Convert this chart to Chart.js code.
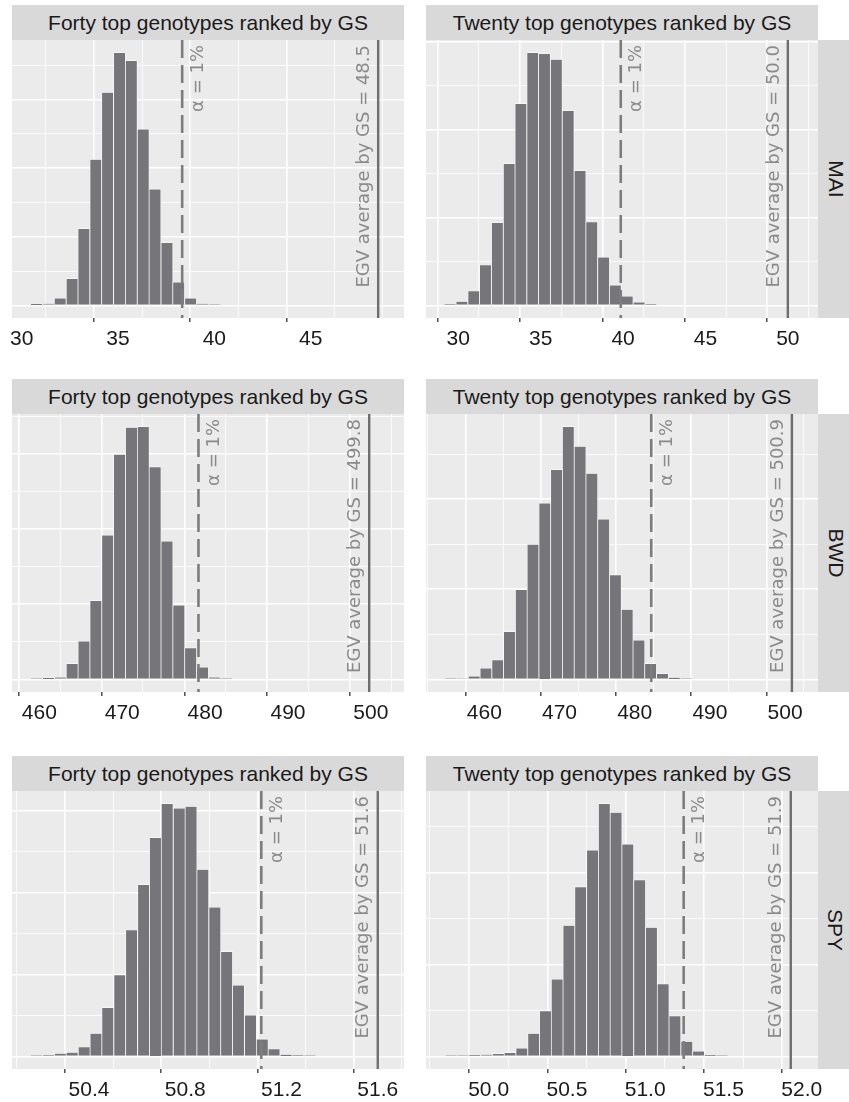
<!DOCTYPE html>
<html>
<head>
<meta charset="utf-8">
<script src="https://cdn.jsdelivr.net/npm/chart.js@4.4.1/dist/chart.umd.min.js"></script>
<style>
  html, body { margin: 0; padding: 0; background: #fff; }
  body { width: 849px; height: 1102px; position: relative; overflow: hidden; font-family: 'Liberation Sans', Arial, sans-serif; }
  .strip { position: absolute; background: #d9d9d9; color: #1a1a1a; font-size: 21px; display: flex; align-items: center; justify-content: center; white-space: nowrap; }
  .strip-y span { display: block; transform: rotate(90deg); }
  canvas { position: absolute; }
</style>
</head>
<body>
<script>
// facets
const rowLabels = ['MAI', 'BWD', 'SPY'];
const colLabels = ['Forty top genotypes ranked by GS', 'Twenty top genotypes ranked by GS'];

// MAI, forty top genotypes
const mai40Mids = [30.77, 31.39, 32.00, 32.62, 33.23, 33.85, 34.46, 35.08, 35.69, 36.31, 36.92, 37.54, 38.15, 38.77, 39.38, 40.00];
const mai40Counts = [8, 12, 52, 195, 560, 1065, 1553, 1843, 1785, 1285, 848, 458, 170, 52, 12, 3];
const mai40Range = [29.50, 49.84];
const mai40Ticks = [30, 35, 40, 45];
const mai40Labels = ['30', '35', '40', '45'];
const mai40Minor = [32.5, 37.5, 42.5, 47.5];

// MAI, twenty top genotypes
const mai20Mids = [29.50, 30.22, 30.94, 31.65, 32.37, 33.09, 33.80, 34.52, 35.23, 35.95, 36.67, 37.39, 38.10, 38.82, 39.53, 40.25, 40.97, 41.69];
const mai20Counts = [5, 22, 82, 230, 472, 808, 1150, 1440, 1435, 1402, 1110, 768, 475, 275, 115, 52, 18, 5];
const mai20Range = [28.04, 51.83];
const mai20Ticks = [30, 35, 40, 45, 50];
const mai20Labels = ['30', '35', '40', '45', '50'];
const mai20Minor = [32.5, 37.5, 42.5, 47.5];

// BWD, forty
const bwd40Mids = [459.67, 461.10, 462.53, 463.96, 465.39, 466.82, 468.25, 469.68, 471.11, 472.54, 473.97, 475.40, 476.83, 478.26, 479.69, 481.12, 482.55];
const bwd40Counts = [5, 10, 15, 105, 255, 525, 960, 1498, 1678, 1683, 1415, 920, 495, 210, 82, 15, 5];
const bwd40Range = [456.7, 504.0];
const bwd40Ticks = [460, 470, 480, 490, 500];
const bwd40Labels = ['460', '470', '480', '490', '500'];
const bwd40Minor = [465, 475, 485, 495];

// BWD, twenty
const bwd20Mids = [455.53, 457.10, 458.66, 460.22, 461.79, 463.35, 464.92, 466.48, 468.05, 469.61, 471.17, 472.74, 474.30, 475.87, 477.43, 479.00, 480.56, 482.12, 483.69, 485.25, 486.82];
const bwd20Counts = [3, 5, 18, 62, 108, 265, 498, 750, 978, 1165, 1403, 1293, 1143, 890, 580, 388, 218, 88, 32, 10, 3];
const bwd20Range = [452.25, 504.37];
const bwd20Ticks = [460, 470, 480, 490, 500];
const bwd20Labels = ['460', '470', '480', '490', '500'];
const bwd20Minor = [455, 465, 475, 485, 495];

// SPY, forty
const spy40Mids = [50.182, 50.232, 50.281, 50.330, 50.380, 50.429, 50.478, 50.528, 50.577, 50.627, 50.676, 50.725, 50.775, 50.824, 50.873, 50.923, 50.972, 51.021, 51.071, 51.120, 51.169, 51.219, 51.268, 51.318];
const spy40Counts = [2, 4, 14, 20, 46, 112, 238, 398, 618, 840, 1070, 1236, 1214, 1222, 914, 730, 512, 348, 202, 84, 36, 8, 4, 2];
const spy40Range = [50.08, 51.709];
const spy40Ticks = [50.4, 50.8, 51.2, 51.6];
const spy40Labels = ['50.4', '50.8', '51.2', '51.6'];
const spy40Minor = [50.2, 50.6, 51.0, 51.4];

// SPY, twenty
const spy20Mids = [49.761, 49.836, 49.911, 49.987, 50.062, 50.137, 50.212, 50.288, 50.363, 50.438, 50.513, 50.588, 50.664, 50.739, 50.814, 50.889, 50.965, 51.040, 51.115, 51.190, 51.266, 51.341, 51.416, 51.491];
const spy20Counts = [2, 3, 5, 10, 15, 20, 45, 125, 248, 420, 712, 922, 1122, 1375, 1328, 1155, 960, 702, 395, 220, 82, 28, 5, 2];
const spy20Range = [49.60, 52.104];
const spy20Ticks = [50.0, 50.5, 51.0, 51.5, 52.0];
const spy20Labels = ['50.0', '50.5', '51.0', '51.5', '52.0'];
const spy20Minor = [49.75, 50.25, 50.75, 51.25, 51.75];

// reference lines (panel order: MAI40, MAI20, BWD40, BWD20, SPY40, SPY20)
const alphaCuts = [38.33, 39.86, 479.2, 482.2, 51.116, 51.246];
const egvValues = [48.5, 50.0, 499.8, 500.9, 51.6, 51.93];
const egvLabels = ['48.5', '50.0', '499.8', '500.9', '51.6', '51.9'];
const countSteps = [250, 250, 250, 250, 200, 250];

const panels = [
  { mids: mai40Mids, counts: mai40Counts, range: mai40Range, major: mai40Ticks, labels: mai40Labels, minor: mai40Minor },
  { mids: mai20Mids, counts: mai20Counts, range: mai20Range, major: mai20Ticks, labels: mai20Labels, minor: mai20Minor },
  { mids: bwd40Mids, counts: bwd40Counts, range: bwd40Range, major: bwd40Ticks, labels: bwd40Labels, minor: bwd40Minor },
  { mids: bwd20Mids, counts: bwd20Counts, range: bwd20Range, major: bwd20Ticks, labels: bwd20Labels, minor: bwd20Minor },
  { mids: spy40Mids, counts: spy40Counts, range: spy40Range, major: spy40Ticks, labels: spy40Labels, minor: spy40Minor },
  { mids: spy20Mids, counts: spy20Counts, range: spy20Range, major: spy20Ticks, labels: spy20Labels, minor: spy20Minor }
];

// layout
const colLeft = [12, 426];
const rowTop = [40, 414, 791];
const panelW = 392, panelH = 278, stripH = 35, axisH = 42, sidePad = 30;

function drawUp(ctx, text, x, y) {
  ctx.save();
  ctx.translate(x, y);
  ctx.rotate(-Math.PI / 2);
  ctx.fillText(text, 0, 0);
  ctx.restore();
}

const panelDecor = {
  id: 'panelDecor',
  beforeDraw(chart) {
    const { ctx, chartArea: a } = chart;
    ctx.save();
    ctx.fillStyle = '#ebebeb';
    ctx.fillRect(a.left, a.top, a.right - a.left, a.bottom - a.top);
    ctx.restore();
  },
  afterDatasetsDraw(chart, args, opts) {
    const { ctx, chartArea: a } = chart;
    const x = chart.scales.x;
    const xa = x.getPixelForValue(opts.alpha);
    const xe = x.getPixelForValue(opts.egv);
    ctx.save();
    ctx.strokeStyle = '#7d7d7d';
    ctx.lineWidth = 2.6;
    ctx.setLineDash([18, 7]);
    ctx.beginPath(); ctx.moveTo(xa, a.top); ctx.lineTo(xa, a.bottom); ctx.stroke();
    ctx.setLineDash([]);
    ctx.strokeStyle = '#6e6e6e';
    ctx.lineWidth = 2.4;
    ctx.beginPath(); ctx.moveTo(xe, a.top); ctx.lineTo(xe, a.bottom); ctx.stroke();
    ctx.fillStyle = '#8a8a8a';
    ctx.font = '18px "DejaVu Sans"';
    ctx.textAlign = 'right';
    ctx.textBaseline = 'middle';
    drawUp(ctx, 'α = 1%', xa + 16, a.top + 5);
    drawUp(ctx, 'EGV average by GS = ' + opts.egvText, xe - 14, a.top + 5);
    ctx.restore();
  }
};

panels.forEach((p, i) => {
  const r = Math.floor(i / 2), c = i % 2;

  const strip = document.createElement('div');
  strip.className = 'strip';
  strip.style.cssText = `left:${colLeft[c]}px;top:${rowTop[r] - stripH}px;width:${panelW}px;height:${stripH}px;`;
  strip.textContent = colLabels[c];
  document.body.appendChild(strip);

  if (c === 1) {
    const side = document.createElement('div');
    side.className = 'strip strip-y';
    side.style.cssText = `left:${colLeft[c] + panelW}px;top:${rowTop[r]}px;width:35px;height:${panelH}px;`;
    side.innerHTML = `<span>${rowLabels[r]}</span>`;
    document.body.appendChild(side);
  }

  const canvas = document.createElement('canvas');
  canvas.width = panelW + 2 * sidePad;
  canvas.height = panelH + axisH;
  canvas.style.left = (colLeft[c] - sidePad) + 'px';
  canvas.style.top = rowTop[r] + 'px';
  document.body.appendChild(canvas);

  const peak = Math.max(...p.counts);
  const step = countSteps[i];
  const xTicks = [...p.major, ...p.minor].sort((a, b) => a - b);
  const isMajor = v => p.major.includes(v);

  new Chart(canvas, {
    type: 'bar',
    data: {
      datasets: [{
        data: p.mids.map((m, k) => ({ x: m, y: p.counts[k] })),
        backgroundColor: '#76767a',
        borderColor: '#ffffff',
        borderWidth: 0.7,
        barPercentage: 1,
        categoryPercentage: 1
      }]
    },
    options: {
      responsive: false,
      animation: false,
      layout: { padding: { left: sidePad, right: sidePad, top: 0, bottom: 0 } },
      plugins: {
        legend: { display: false },
        tooltip: { enabled: false },
        panelDecor: { alpha: alphaCuts[i], egv: egvValues[i], egvText: egvLabels[i] }
      },
      scales: {
        x: {
          type: 'linear',
          min: p.range[0],
          max: p.range[1],
          offset: false,
          afterBuildTicks: s => { s.ticks = xTicks.map(v => ({ value: v })); },
          afterFit: s => { s.height = axisH; s.paddingLeft = 0; s.paddingRight = 0; },
          border: { display: false },
          grid: {
            color: '#ffffff',
            lineWidth: ctx => (ctx.tick && isMajor(ctx.tick.value)) ? 1.6 : 0.8,
            tickColor: ctx => (ctx.tick && isMajor(ctx.tick.value)) ? '#333333' : 'rgba(0,0,0,0)',
            tickLength: 4,
            tickWidth: 1.3
          },
          ticks: {
            autoSkip: false,
            maxRotation: 0,
            minRotation: 0,
            padding: 5,
            color: '#1a1a1a',
            font: { family: '"Liberation Sans", Arial, sans-serif', size: 21 },
            callback: v => {
              const k = p.major.indexOf(v);
              return k >= 0 ? p.labels[k] : '';
            }
          }
        },
        y: {
          min: -0.05 * peak,
          max: 1.05 * peak,
          afterBuildTicks: s => {
            const t = [];
            for (let v = 0; v <= s.max; v += step) t.push({ value: v });
            s.ticks = t;
          },
          afterFit: s => { s.width = 0; },
          border: { display: false },
          grid: {
            color: '#ffffff',
            drawTicks: false,
            lineWidth: ctx => (ctx.tick && Math.round(ctx.tick.value / step) % 2 === 0) ? 1.6 : 0.8
          },
          ticks: { display: false }
        }
      }
    },
    plugins: [panelDecor]
  });
});
</script>
</body>
</html>
